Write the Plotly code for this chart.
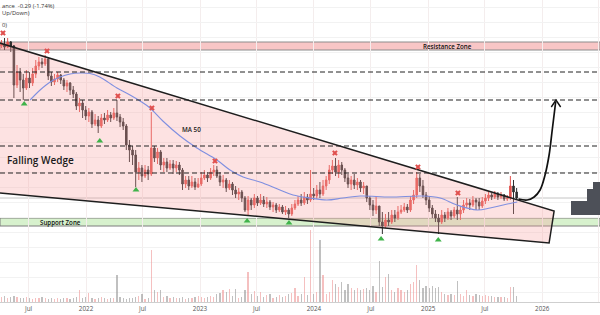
import plotly.graph_objects as go
import pandas as pd

# ---------------- data (price units, 10-day candles) ----------------
candle_start = "2021-04-05"
first_open = 46.8
closes = [47.2,46.6,47.6,46.8,39.0,41.6,40.0,38.4,40.4,39.4,
          41.2,42.8,43.6,43.2,44.2,40.8,39.6,40.2,41.0,40.0,
          38.8,39.4,38.0,37.2,34.8,35.4,34.0,32.8,33.6,31.2,
          32.0,30.8,32.4,32.0,33.0,32.4,33.4,32.6,31.6,30.8,
          27.0,26.0,25.0,21.6,22.4,20.8,22.0,21.2,26.4,24.4,
          25.6,23.0,23.6,22.4,23.2,22.4,23.0,22.0,19.2,20.0,
          18.8,19.6,18.6,19.2,20.4,21.0,20.4,21.6,22.0,20.8,
          19.6,20.0,18.4,19.2,18.0,17.2,17.6,16.4,14.0,16.0,
          15.0,16.4,15.4,16.0,15.2,15.6,14.6,15.0,14.0,14.6,
          13.6,14.0,13.2,14.4,15.2,16.0,15.4,16.6,16.0,17.2,
          16.8,18.0,17.2,18.8,20.0,22.0,22.8,21.6,23.0,22.0,
          20.4,19.2,20.0,19.0,19.6,18.4,18.8,16.4,15.0,14.0,
          14.8,11.6,10.8,12.0,11.6,13.0,12.4,13.6,14.0,14.6,
          14.0,16.0,17.0,20.4,18.8,17.0,16.0,14.4,13.2,12.4,
          11.6,13.0,12.4,13.6,12.8,14.0,13.2,14.0,15.0,15.4,
          15.0,16.0,15.6,14.8,15.8,16.4,17.0,16.6,17.2,16.6,
          17.0,16.2,16.4,18.8,17.6,16.4]
highs = [48.0,48.4,48.4,47.8,47.0,43.0,42.4,41.2,42.0,41.6,
         42.4,44.0,44.6,44.4,45.0,44.6,41.6,41.2,41.6,41.2,
         40.4,40.0,39.6,38.8,37.6,36.4,36.0,34.8,34.4,34.0,
         33.2,32.8,33.2,33.4,34.0,33.6,34.4,36.0,33.2,32.4,
         31.2,28.0,26.8,26.0,23.6,23.0,23.0,22.8,33.6,26.8,
         26.4,26.0,24.4,24.4,24.0,24.0,23.8,23.6,22.4,20.8,
         20.8,20.8,20.4,20.4,21.6,22.0,21.6,22.4,23.0,22.8,
         21.6,21.0,20.4,20.0,19.6,18.8,18.4,18.0,16.8,16.8,
         16.4,17.2,16.8,17.2,16.8,16.6,16.0,15.6,15.4,15.2,
         15.0,14.8,14.4,15.2,16.0,16.8,17.2,17.6,17.2,22.0,
         18.4,19.0,19.6,20.0,20.8,23.0,24.0,24.4,24.0,23.6,
         22.4,21.2,20.8,21.2,20.4,20.0,19.6,18.8,16.8,16.0,
         16.8,14.8,13.6,13.2,13.6,14.0,14.0,14.8,15.0,15.4,
         15.2,16.8,18.0,21.6,21.2,20.0,17.6,16.8,15.0,14.0,
         13.2,14.0,13.6,14.4,14.0,14.6,16.6,14.8,16.0,16.4,
         16.2,16.8,16.4,16.4,16.6,17.2,17.6,17.4,17.8,17.6,
         17.6,17.2,17.0,20.8,20.0,18.4]
lows = [46.4,46.0,46.4,45.6,36.4,38.4,37.6,36.0,38.0,38.4,
        38.8,40.4,42.0,42.4,42.8,40.0,38.8,39.0,39.6,39.2,
        38.0,37.6,37.0,36.4,34.0,33.6,32.4,32.0,31.6,30.4,
        30.8,29.4,30.4,31.2,31.6,31.6,32.0,31.8,30.6,30.0,
        26.0,23.6,23.0,18.6,20.0,19.6,20.4,20.0,20.8,23.6,
        23.2,22.0,21.6,21.6,22.0,21.2,21.6,21.0,18.0,18.4,
        18.0,18.4,18.0,18.4,18.8,20.0,19.6,20.0,20.8,20.4,
        18.8,18.4,17.6,18.0,17.0,16.4,16.0,15.6,13.6,12.8,
        14.0,14.4,14.8,15.0,14.6,14.4,14.0,13.6,13.4,13.6,
        13.2,13.0,12.4,12.8,14.0,14.8,14.8,15.0,15.2,15.6,
        16.0,16.2,16.4,16.8,18.0,19.2,21.2,20.8,20.4,21.0,
        19.6,18.4,18.0,18.2,18.0,17.6,17.2,15.6,14.0,12.8,
        13.2,10.8,9.2,10.4,10.8,11.2,11.6,12.0,13.2,13.6,
        13.4,13.6,15.2,16.4,17.6,16.4,15.0,13.6,12.4,11.6,
        9.2,11.2,11.6,12.0,12.0,12.4,12.0,12.0,13.4,14.4,
        14.0,14.6,14.0,14.0,14.4,15.2,15.8,16.0,16.2,16.0,
        16.2,15.8,15.8,16.0,13.2,16.0]
volumes = [5,6,4,5,6,5,4,4,5,4,3,4,4,5,4,3,4,3,4,3,4,4,3,4,5,
           12,4,5,9,4,3,4,5,4,3,4,4,
           27,5,4,3,4,4,5,6,8,3,4,
           52,12,10,12,5,6,4,5,4,4,5,3,4,
           4,5,6,5,4,5,6,5,8,9,
           12,10,13,6,13,4,5,12,30,8,
           11,6,10,5,7,8,4,5,7,5,
           6,8,9,14,6,8,25,7,72,8,
           10,62,27,8,10,22,18,15,20,12,
           18,14,12,14,12,13,14,12,16,10,
           41,15,25,28,12,10,14,12,10,12,
           18,20,37,22,14,16,14,16,14,15,
           10,8,7,8,7,21,8,6,12,7,
           6,8,7,6,7,6,6,5,5,5,
           5,4,15,15,6]

ma_dates = ["2021-07-06","2021-08-07","2021-09-08","2021-10-10","2021-11-11","2021-12-13",
            "2022-01-14","2022-02-14","2022-04-10","2022-05-22","2022-06-23","2022-07-25",
            "2022-09-04","2022-10-29","2022-12-22","2023-02-24","2023-04-07","2023-05-19",
            "2023-07-12","2023-09-14","2023-10-26","2023-12-19","2024-02-11","2024-04-03",
            "2024-05-28","2024-09-01","2024-12-15","2025-02-08","2025-04-03","2025-06-06",
            "2025-07-18","2025-08-29","2025-10-13"]
ma_values = [36.0,38.0,39.6,40.6,41.2,41.4,41.3,40.6,38.4,37.0,35.8,34.4,
             31.8,28.8,26.4,24.0,22.0,20.6,19.6,18.0,17.0,16.4,16.0,16.4,
             16.8,16.6,16.8,16.4,15.0,14.0,14.4,15.0,15.6]

high_mark_dates = ["2021-04-10","2021-08-29","2022-04-13","2022-07-31","2023-02-18",
                   "2024-03-08","2024-11-29","2025-04-06"]
high_mark_prices = [49.4,45.8,36.8,34.4,23.8,25.4,22.6,17.4]
low_mark_dates = ["2021-06-17","2022-02-14","2022-06-10","2023-06-01","2023-10-13",
                  "2024-08-03","2025-02-02"]
low_mark_prices = [35.2,27.8,18.0,11.8,11.4,8.2,8.0]

wedge_dates = ["2021-03-25","2026-02-08","2026-01-23","2021-03-25","2021-03-25"]
wedge_prices = [47.5,13.8,7.4,17.44,47.5]

resistance_zone = (46.0,47.6)
support_zone = (10.8,12.4)
dashed_levels = [41.6,36.0,26.8,21.4]
last_price = 16.4

arrow_dates = ["2025-10-17","2025-11-14","2025-12-06","2025-12-25","2026-01-10",
               "2026-01-23","2026-02-02","2026-02-13"]
arrow_prices = [16.2,16.0,16.6,18.0,21.0,25.0,30.0,35.6]
arrowhead_dates = ["2026-01-30","2026-02-14","2026-03-01"]
arrowhead_prices = [34.6,36.0,34.6]

tick_dates = ["2021-07-01","2022-01-01","2022-07-01","2023-01-01","2023-07-01","2024-01-01",
              "2024-07-01","2025-01-01","2025-07-01","2026-01-01","2026-07-01"]
tick_labels = ["Jul","2022","Jul","2023","Jul","2024","Jul","2025","Jul","2026","Jul"]

# ---------------- build ----------------
n = min(len(closes), len(highs), len(lows), len(volumes))
closes, highs, lows, volumes = closes[:n], highs[:n], lows[:n], volumes[:n]
opens = [first_open] + closes[:-1]
highs = [max(h, o, c) for h, o, c in zip(highs, opens, closes)]
lows = [min(l, o, c) for l, o, c in zip(lows, opens, closes)]
dates = pd.date_range(candle_start, periods=n, freq="10D")

UP = "#e2544f"
DOWN = "#2f2f2f"
FONT = "Open Sans"

fig = go.Figure()

fig.add_trace(go.Scatter(x=wedge_dates, y=wedge_prices, mode="lines", fill="toself",
                         fillcolor="rgba(247,160,160,0.30)",
                         line=dict(color="#1e1e1e", width=1.5), hoverinfo="skip",
                         showlegend=False))

fig.add_trace(go.Scatter(x=ma_dates, y=ma_values, mode="lines", line=dict(color="#7f8fe0", width=1.1, shape="spline"),
                         showlegend=False, hoverinfo="skip"))

fig.add_trace(go.Candlestick(x=dates, open=opens, high=highs, low=lows, close=closes,
                             increasing=dict(line=dict(color=UP, width=1), fillcolor=UP),
                             decreasing=dict(line=dict(color=DOWN, width=1), fillcolor=DOWN),
                             whiskerwidth=0, showlegend=False))

vol_colors = ["rgba(238,150,150,0.6)" if c >= o else "rgba(150,150,150,0.6)" for o, c in zip(opens, closes)]
fig.add_trace(go.Bar(x=dates, y=volumes, yaxis="y2", marker=dict(color=vol_colors, line=dict(width=0)),
                     width=4 * 86400000, showlegend=False, hoverinfo="skip"))

fig.add_trace(go.Scatter(x=high_mark_dates, y=high_mark_prices, mode="markers",
                         marker=dict(symbol="x", size=5, color="#e0504e"), showlegend=False))
fig.add_trace(go.Scatter(x=low_mark_dates, y=low_mark_prices, mode="markers",
                         marker=dict(symbol="triangle-up", size=6, color="#3fb34a"), showlegend=False))

fig.add_trace(go.Scatter(x=arrow_dates, y=arrow_prices, mode="lines",
                         line=dict(color="#111111", width=1.7, shape="spline"), showlegend=False))
fig.add_trace(go.Scatter(x=arrowhead_dates, y=arrowhead_prices, mode="lines",
                         line=dict(color="#111111", width=1.4), showlegend=False))

shapes = []
shapes.append(dict(type="rect", xref="paper", yref="y", x0=0, x1=1, y0=resistance_zone[0], y1=resistance_zone[1],
                   fillcolor="#f8c6c6", line=dict(color="#8c8c8c", width=1), layer="between"))
shapes.append(dict(type="rect", xref="paper", yref="y", x0=0, x1=1, y0=support_zone[0], y1=support_zone[1],
                   fillcolor="#d7f1cd", line=dict(color="#7c7c7c", width=1), layer="between"))
shapes.append(dict(type="line", xref="paper", yref="y", x0=0, x1=1, y0=last_price, y1=last_price,
                   line=dict(color="#c4c4c4", width=1), layer="between"))
for lv in dashed_levels:
    shapes.append(dict(type="line", xref="paper", yref="y", x0=0, x1=1, y0=lv, y1=lv,
                       line=dict(color="#222222", width=1, dash="5px,3px"), layer="above"))
# right side dark blocks
for x0, y0, y1 in [(0.9517, 13.0, 15.8), (0.9783, 15.8, 18.2), (0.9883, 18.2, 19.6)]:
    shapes.append(dict(type="rect", xref="paper", yref="y", x0=x0, x1=1.0, y0=y0, y1=y1,
                       fillcolor="#4d5058", line=dict(width=0), layer="above"))

annotations = [
    dict(text="Falling Wedge", x=0.008, y=24.0, xref="paper", yref="y", xanchor="left", yanchor="middle",
         showarrow=False, font=dict(family=FONT, size=10, color="#1a1a1a", weight=600)),
    dict(text="MA 50", x="2022-10-30", y=30.2, xref="x", yref="y", xanchor="left", yanchor="middle",
         showarrow=False, font=dict(family=FONT, size=6.3, color="#1a1a1a", weight=600)),
    dict(text="Resistance Zone", x="2024-12-10", y=46.8, xref="x", yref="y", xanchor="left", yanchor="middle",
         showarrow=False, font=dict(family=FONT, size=6.2, color="#111111", weight=600)),
    dict(text="Support Zone", x="2021-08-01", y=11.6, xref="x", yref="y", xanchor="left", yanchor="middle",
         showarrow=False, font=dict(family=FONT, size=6.2, color="#111111", weight=600)),
    dict(text="ance  -0.29 (-1.74%)", x=0.0, y=1 - 6 / 302, xref="paper", yref="paper", xanchor="left",
         yanchor="middle", showarrow=False, font=dict(family=FONT, size=5.8, color="#333333")),
    dict(text="Up/Down)", x=0.0, y=1 - 13 / 302, xref="paper", yref="paper", xanchor="left",
         yanchor="middle", showarrow=False, font=dict(family=FONT, size=5.8, color="#333333")),
    dict(text="0)", x=0.0, y=1 - 25 / 302, xref="paper", yref="paper", xanchor="left",
         yanchor="middle", showarrow=False, font=dict(family=FONT, size=5.8, color="#333333")),
]

fig.update_layout(
    width=600, height=315, margin=dict(l=0, r=0, t=0, b=13),
    paper_bgcolor="white", plot_bgcolor="white", showlegend=False,
    shapes=shapes, annotations=annotations, bargap=0,
    xaxis=dict(type="date", range=["2021-03-31 12:00", "2026-07-05"], rangeslider=dict(visible=False),
               tickvals=tick_dates, ticktext=tick_labels, ticks="", showgrid=True, gridcolor="#f4eded",
               gridwidth=1, showline=True, linecolor="#cfcfcf", linewidth=1,
               tickfont=dict(family=FONT, size=6.3, color="#555555"), fixedrange=True),
    yaxis=dict(range=[-4.4, 56.0], showticklabels=False, showgrid=True, gridcolor="#f2f2f2",
               tick0=0.6, dtick=3, zeroline=False, fixedrange=True),
    yaxis2=dict(range=[0, 302], overlaying="y", visible=False, zeroline=False, fixedrange=True),
)

fig.write_html("out.html")
